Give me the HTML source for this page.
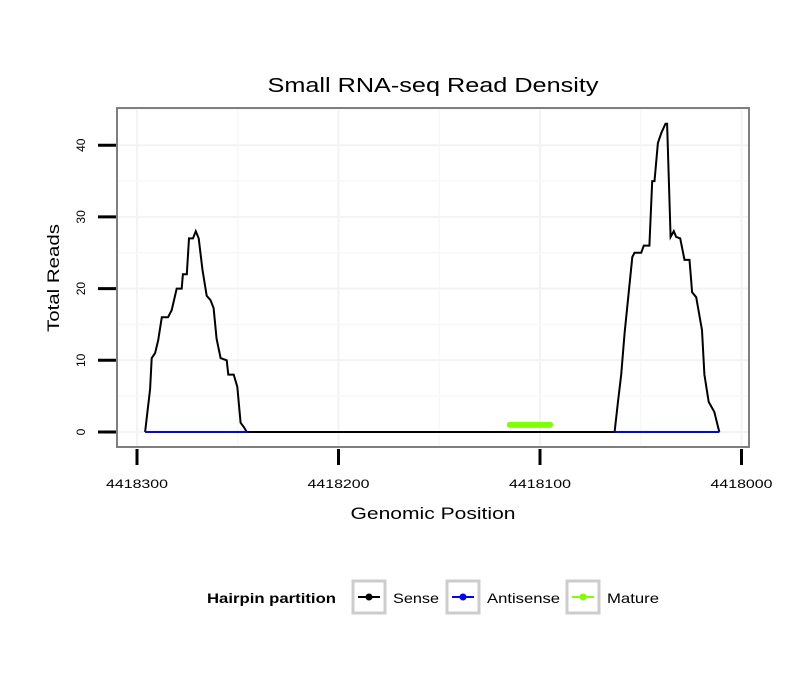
<!DOCTYPE html>
<html><head><meta charset="utf-8"><style>
body{margin:0;background:#fff;}
svg{display:block;font-family:"Liberation Sans",sans-serif;}
</style></head><body>
<svg id="c" width="810" height="690"></svg>
<script>
const sensePos=[4418296,4418293.5,4418292.7,4418291,4418289.5,4418287.7,4418284.6,4418282.8,4418280.3,4418277.8,4418277.2,4418275.3,4418274.2,4418272.2,4418270.8,4418269.4,4418267.5,4418265.4,4418263.5,4418262,4418260.5,4418258.5,4418255.5,4418254.7,4418252,4418250.2,4418248.6,4418247,4418245.5,4418063,4418061.4,4418059.7,4418058,4418054.2,4418053.1,4418049.8,4418048.5,4418045.7,4418044.3,4418043.2,4418041.5,4418039.8,4418037.7,4418036.9,4418035.2,4418033.6,4418032.4,4418030.4,4418028.3,4418025.8,4418024.5,4418022.5,4418019.6,4418018.4,4418016.3,4418013.5,4418011];
const senseVal=[0,6,10.3,11,12.8,16,16,17,20,20,22,22,27,27,28,27,22.6,19,18.4,17.3,13,10.3,10,8,8,6.3,1.3,0.7,0,0,4,8,13.8,24.4,25,25,26,26,35,35,40.3,41.7,43,43,27.2,28,27.2,27,24,24,19.5,18.8,14.2,8,4.2,2.8,0];
const antiSegs=[[4418296,4418245.5],[4418063,4418011]];
const maturePos=[4418115,4418095];
const matureVal=[1,1];
const xTicks=[4418300,4418200,4418100,4418000];
const yTicks=[0,10,20,30,40];

const NS="http://www.w3.org/2000/svg";
const svg=document.getElementById('c');
function X(p){return 137+(4418300-p)*2.015;}
function Y(v){return 432-v*7.17;}
function mk(t,a,par){const e=document.createElementNS(NS,t);for(const k in a)e.setAttribute(k,a[k]);(par||svg).appendChild(e);return e;}
function txt(s,a,par){const e=mk('text',Object.assign({lengthAdjust:'spacingAndGlyphs'},a),par);e.textContent=s;return e;}

const t=txt('Small RNA-seq Read Density',{x:433,y:92,'font-size':20,'text-anchor':'middle',textLength:331});



const bg=mk('rect',{x:117,y:108,width:632,height:339,fill:'#fff'});


const g=mk('g',{});


for(let i=0;i<xTicks.length;i++){
  mk('line',{x1:X(xTicks[i]),x2:X(xTicks[i]),y1:109,y2:446,stroke:'#f3f3f3','stroke-width':2},g);
  if(i<xTicks.length-1){const m=(xTicks[i]+xTicks[i+1])/2;mk('line',{x1:X(m),x2:X(m),y1:109,y2:446,stroke:'#f8f8f8','stroke-width':1.5},g);}
}
for(let i=0;i<yTicks.length;i++){
  mk('line',{x1:118,x2:748,y1:Y(yTicks[i]),y2:Y(yTicks[i]),stroke:'#f3f3f3','stroke-width':2},g);
  mk('line',{x1:118,x2:748,y1:Y(yTicks[i]+5),y2:Y(yTicks[i]+5),stroke:'#f8f8f8','stroke-width':1.5},g);
}
let d='';sensePos.forEach((p,i)=>{d+=(i?'L':'M')+X(p).toFixed(1)+','+Y(senseVal[i]).toFixed(1);});
const sl=mk('path',{d:d,fill:'none',stroke:'#000','stroke-width':2});


antiSegs.forEach(s=>{
  const l=mk('line',{x1:X(s[0]),x2:X(s[1]),y1:Y(0),y2:Y(0),stroke:'#0000ff','stroke-width':2});
  
  
});
const ml=mk('line',{x1:X(maturePos[0]),x2:X(maturePos[1]),y1:Y(matureVal[0]),y2:Y(matureVal[1]),stroke:'#7fff00','stroke-width':6,'stroke-linecap':'round'});



const fr=mk('rect',{x:117,y:108,width:632,height:339,fill:'none',stroke:'#7f7f7f','stroke-width':2});



xTicks.forEach(v=>{
  const l=mk('line',{x1:X(v),x2:X(v),y1:449,y2:465,stroke:'#000','stroke-width':3});
  
  
  const e=txt(String(v),{x:X(v),y:488,'font-size':12,'text-anchor':'middle',textLength:62});
  
  
});
yTicks.forEach(v=>{
  const l=mk('line',{x1:98,x2:116,y1:Y(v),y2:Y(v),stroke:'#000','stroke-width':3});
  
  
  const e=txt(String(v),{x:85,y:Y(v),'font-size':12,'text-anchor':'middle',transform:'rotate(-90 85 '+Y(v)+')'});
  
  
});
const xt=txt('Genomic Position',{x:433,y:519,'font-size':17,'text-anchor':'middle',textLength:165});


const yt=txt('Total Reads',{x:59,y:278,'font-size':17,'text-anchor':'middle',textLength:108,transform:'rotate(-90 59 278)'});



const lt=txt('Hairpin partition',{x:207,y:603,'font-size':14,'font-weight':'bold',textLength:129});


const keys=[['Sense','#000',353,393,46],['Antisense','#0000ff',447,487,73],['Mature','#7fff00',567,607,52]];
keys.forEach(k=>{
  const gg=mk('g',{});
  
  
  mk('rect',{x:k[2],y:581,width:32,height:32,fill:'#fff',stroke:'#cccccc','stroke-width':3},gg);
  mk('line',{x1:k[2]+5,x2:k[2]+27,y1:597,y2:597,stroke:k[1],'stroke-width':2},gg);
  mk('circle',{cx:k[2]+16,cy:597,r:3.5,fill:k[1]},gg);
  txt(k[0],{x:k[3],y:603,'font-size':14,textLength:k[4]},gg);
});
</script>
</body></html>
